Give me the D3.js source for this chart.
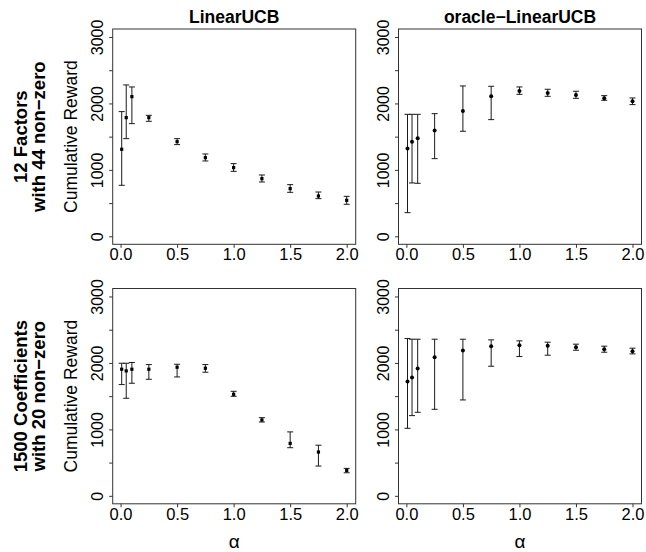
<!DOCTYPE html>
<html>
<head>
<meta charset="utf-8">
<script src="https://cdn.jsdelivr.net/npm/d3@7"></script>
<style>
  html, body { margin: 0; padding: 0; background: #fff; }
  svg { display: block; }
  text { font-family: "Liberation Sans", Arial, Helvetica, sans-serif; fill: #000; }
</style>
</head>
<body>
<svg id="chart" width="646" height="552"></svg>
<script>
// Exploration parameter values
const alpha = [0.01, 0.05, 0.1, 0.25, 0.5, 0.75, 1.0, 1.25, 1.5, 1.75, 2.0];

// Column titles and row labels
const methods = ["LinearUCB", "oracle\u2212LinearUCB"];
const settings = [["12 Factors", "with 44 non\u2212zero"], ["1500 Coefficients", "with 20 non\u2212zero"]];

// Axis ticks
const xTicks = [0, 0.5, 1.0, 1.5, 2.0];
const yTicks = [0, 500, 1000, 1500, 2000, 2500, 3000];
const yLabelled = [0, 1000, 2000, 3000];
const yRange = [0, 3000];

// 12 factors, LinearUCB: mean and interval bounds of cumulative reward
const factorsLinMean = [1310, 1786, 2102, 1786, 1425, 1184, 1034, 868, 718, 607, 542];
const factorsLinLow  = [768, 1470, 1696, 1731, 1380, 1134, 978, 818, 662, 567, 482];
const factorsLinHigh = [1877, 2278, 2248, 1821, 1470, 1239, 1094, 923, 778, 667, 602];

// 12 factors, oracle-LinearUCB
const factorsOraMean = [1320, 1425, 1475, 1591, 1887, 2107, 2188, 2158, 2127, 2077, 2032];
const factorsOraLow  = [356, 803, 798, 1169, 1581, 1756, 2137, 2107, 2077, 2047, 1982];
const factorsOraHigh = [1836, 1836, 1836, 1846, 2263, 2258, 2248, 2213, 2183, 2117, 2082];

// 1500 coefficients, LinearUCB
const coefLinMean = [1905, 1880, 1905, 1905, 1935, 1920, 1528, 1141, 789, 659, 383];
const coefLinLow  = [1674, 1468, 1694, 1754, 1789, 1860, 1498, 1111, 724, 448, 347];
const coefLinHigh = [1995, 1995, 2006, 1975, 1980, 1975, 1573, 1176, 962, 762, 413];

// 1500 coefficients, oracle-LinearUCB
const coefOraMean = [1722, 1779, 1915, 2086, 2186, 2252, 2267, 2257, 2237, 2206, 2176];
const coefOraLow  = [1016, 1207, 1257, 1302, 1443, 1950, 2096, 2116, 2191, 2161, 2136];
const coefOraHigh = [2367, 2357, 2357, 2357, 2357, 2347, 2332, 2312, 2282, 2252, 2222];

const panels = [
  { row: 0, col: 0, mean: factorsLinMean, low: factorsLinLow, high: factorsLinHigh },
  { row: 0, col: 1, mean: factorsOraMean, low: factorsOraLow, high: factorsOraHigh },
  { row: 1, col: 0, mean: coefLinMean, low: coefLinLow, high: coefLinHigh },
  { row: 1, col: 1, mean: coefOraMean, low: coefOraLow, high: coefOraHigh }
];

// Layout of the 2x2 grid
const colLeft = [112.7, 398.5];
const rowTop = [29, 288.5];
const panelW = 243, panelH = 215.3;

// R-style 4% padding on each axis
function pad(ext) { const d = (ext[1] - ext[0]) * 0.04; return [ext[0] - d, ext[1] + d]; }
const xDomain = pad(d3.extent(alpha));
const yDomain = pad(yRange);

const svg = d3.select("#chart");
const ink = "#1a1a1a";

panels.forEach(p => {
  const x0 = colLeft[p.col], y0 = rowTop[p.row];
  const x = d3.scaleLinear().domain(xDomain).range([x0, x0 + panelW]);
  const y = d3.scaleLinear().domain(yDomain).range([y0 + panelH, y0]);
  const g = svg.append("g");

  // frame
  g.append("rect")
    .attr("x", x0).attr("y", y0).attr("width", panelW).attr("height", panelH)
    .attr("fill", "none").attr("stroke", "#333").attr("stroke-width", 1);

  // x axis
  const xa = g.append("g").attr("transform", `translate(0,${y0 + panelH})`)
    .call(d3.axisBottom(x).tickValues(xTicks).tickFormat(d3.format(".1f")).tickSize(3.5).tickSizeOuter(0));
  xa.select(".domain").remove();
  xa.selectAll(".tick line").attr("stroke", "#333");
  xa.selectAll(".tick text")
    .attr("y", 16).attr("dy", 0)
    .style("font-size", "16.5px")
    .style("font-family", "'Liberation Sans', Arial, sans-serif")
    .attr("fill", "#000");

  // y axis: ticks every 500, labels every 1000, rotated
  const ya = g.append("g").attr("transform", `translate(${x0},0)`)
    .call(d3.axisLeft(y).tickValues(yTicks)
      .tickFormat(d => yLabelled.includes(d) ? String(d) : "")
      .tickSize(3.5).tickSizeOuter(0));
  ya.select(".domain").remove();
  ya.selectAll(".tick line").attr("stroke", "#333");
  ya.selectAll(".tick text")
    .attr("transform", "rotate(-90)")
    .attr("x", 0).attr("y", -9.5).attr("dy", 0)
    .attr("text-anchor", "middle")
    .style("font-size", "16px")
    .style("font-family", "'Liberation Sans', Arial, sans-serif")
    .attr("fill", "#000");

  const pts = alpha.map((a, i) => ({ a, m: p.mean[i], lo: p.low[i], hi: p.high[i] }));

  // interval bars with caps
  const bars = g.append("g").attr("stroke", ink).attr("stroke-width", 1).attr("fill", "none");
  bars.selectAll("line.v").data(pts).join("line").attr("class", "v")
    .attr("x1", d => x(d.a)).attr("x2", d => x(d.a))
    .attr("y1", d => y(d.lo)).attr("y2", d => y(d.hi));
  ["lo", "hi"].forEach(k => {
    bars.selectAll("line." + k).data(pts).join("line").attr("class", k)
      .attr("x1", d => x(d.a) - 3).attr("x2", d => x(d.a) + 3)
      .attr("y1", d => y(d[k])).attr("y2", d => y(d[k]));
  });

  // mean markers: squares for LinearUCB, dots for oracle
  if (p.col === 0) {
    g.selectAll("rect.pt").data(pts).join("rect").attr("class", "pt")
      .attr("x", d => x(d.a) - 1.6).attr("y", d => y(d.m) - 1.6)
      .attr("width", 3.2).attr("height", 3.2).attr("fill", "#000");
  } else {
    g.selectAll("circle.pt").data(pts).join("circle").attr("class", "pt")
      .attr("cx", d => x(d.a)).attr("cy", d => y(d.m)).attr("r", 2)
      .attr("fill", "#000");
  }

  const cx = x0 + panelW / 2, cy = y0 + panelH / 2;

  // column title
  if (p.row === 0) {
    g.append("text").attr("x", cx).attr("y", 22.7).attr("text-anchor", "middle")
      .style("font-size", "17.5px").style("font-weight", "bold").text(methods[p.col]);
  }

  // x-axis label on the bottom row
  if (p.row === 1) {
    g.append("text").attr("x", cx).attr("y", 548).attr("text-anchor", "middle")
      .style("font-size", "19px").text("\u03b1");
  }

  // y-axis label and row label on the left column
  if (p.col === 0) {
    g.append("text").attr("transform", `translate(77,${cy}) rotate(-90)`)
      .attr("text-anchor", "middle").style("font-size", "17.5px").text("Cumulative Reward");
    settings[p.row].forEach((s, k) => {
      g.append("text").attr("transform", `translate(${k === 0 ? 27 : 45},${cy}) rotate(-90)`)
        .attr("text-anchor", "middle").style("font-size", "18.5px").style("font-weight", "bold")
        .text(s);
    });
  }
});
</script>
</body>
</html>
